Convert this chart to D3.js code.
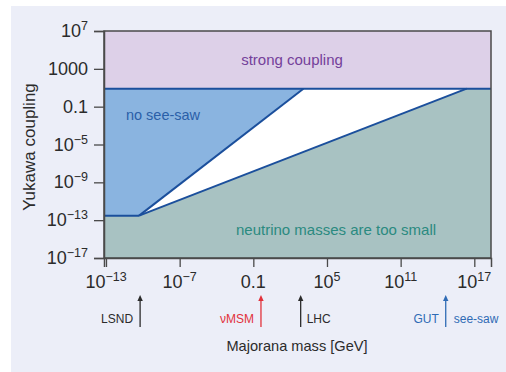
<!DOCTYPE html>
<html>
<head>
<meta charset="utf-8">
<script src="https://cdn.jsdelivr.net/npm/d3@7"></script>
<style>
  html, body { margin: 0; padding: 0; background: #ffffff; }
  svg { display: block; font-family: "Liberation Sans", Arial, sans-serif; }
</style>
</head>
<body>
<svg id="chart" width="506" height="372"></svg>
<script>
// Majorana mass (GeV) vs Yukawa coupling: allowed see-saw region
const xTicks = [1e-13, 1e-7, 0.1, 1e5, 1e11, 1e17];
const xTickBase = ["10", "10", "0.1", "10", "10", "10"];
const xTickExp = ["−13", "−7", "", "5", "11", "17"];
const yTicks = [1e-17, 1e-13, 1e-9, 1e-5, 0.1, 1000, 1e7];
const yTickBase = ["10", "10", "10", "10", "0.1", "1000", "10"];
const yTickExp = ["−17", "−13", "−9", "−5", "", "", "7"];

// Boundary curves
const strongCoupling = 8;            // perturbativity limit
const floorCoupling = 3e-13;         // Dirac-mass floor
const upperMass = [5e-11, 1.2e3];    // y = M / v
const upperCoupling = [3e-13, 8];
const lowerMass = [5e-11, 2.4e16];   // y = sqrt(m_nu M) / v
const lowerCoupling = [3e-13, 8];

// Mass scales marked under the axis
const markerNames = ["LSND", "νMSM", "LHC", "GUT"];
const markerMass = [6e-11, 0.42, 720, 4.7e14];
const markerColors = ["#2b2b2b", "#e2323c", "#2b2b2b", "#2f6bb5"];

const svg = d3.select("#chart");
const W = 506, H = 372;
const plot = { left: 104, right: 491, top: 31, bottom: 258 };

// panel background
svg.append("rect").attr("x", 11).attr("y", 6).attr("width", W - 11).attr("height", H - 6)
  .attr("fill", "#eceef8");

const x = d3.scaleLog().domain([Math.pow(10, -13.163), Math.pow(10, 18.36)])
  .range([plot.left, plot.right]);
const y = d3.scaleLog().domain([1e-17, 1e7]).range([plot.bottom, plot.top]);
const [xMin, xMax] = x.domain();
const [yMin, yMax] = y.domain();

const g = svg.append("g");
g.append("rect").attr("x", plot.left).attr("y", plot.top)
  .attr("width", plot.right - plot.left).attr("height", plot.bottom - plot.top)
  .attr("fill", "#ffffff");

const line = d3.line().x(d => x(d[0])).y(d => y(d[1]));
const area = pts => line(pts) + "Z";

// strong coupling band
g.append("path").attr("fill", "#ddd0e8")
  .attr("d", area([[xMin, strongCoupling], [xMax, strongCoupling], [xMax, yMax], [xMin, yMax]]));
// no see-saw region
g.append("path").attr("fill", "#8ab4e0")
  .attr("d", area([[xMin, floorCoupling], [upperMass[0], upperCoupling[0]],
    [upperMass[1], upperCoupling[1]], [xMin, strongCoupling]]));
// neutrino masses too small
g.append("path").attr("fill", "#a8c2c2")
  .attr("d", area([[xMin, yMin], [xMin, floorCoupling], [lowerMass[0], lowerCoupling[0]],
    [lowerMass[1], lowerCoupling[1]], [xMax, strongCoupling], [xMax, yMin]]));

const lineColor = "#1b4f9c";
const boundaries = [
  [[xMin, strongCoupling], [xMax, strongCoupling]],
  [[xMin, floorCoupling], [upperMass[0], upperCoupling[0]]],
  [[upperMass[0], upperCoupling[0]], [upperMass[1], upperCoupling[1]]],
  [[lowerMass[0], lowerCoupling[0]], [lowerMass[1], lowerCoupling[1]]]
];
g.selectAll(".bound").data(boundaries).join("path").attr("class", "bound")
  .attr("d", line).attr("fill", "none").attr("stroke", lineColor)
  .attr("stroke-width", 2).attr("stroke-linejoin", "round");

// frame
g.append("rect").attr("x", plot.left).attr("y", plot.top)
  .attr("width", plot.right - plot.left).attr("height", plot.bottom - plot.top)
  .attr("fill", "none").attr("stroke", "#4a4a4a").attr("stroke-width", 1.5);

// axes
const xAxis = d3.axisBottom(x).tickValues(xTicks).tickSize(9).tickFormat("");
const yAxis = d3.axisLeft(y).tickValues(yTicks).tickSize(10).tickFormat("");
const gx = svg.append("g").attr("transform", `translate(0,${plot.bottom})`).call(xAxis);
const gy = svg.append("g").attr("transform", `translate(${plot.left},0)`).call(yAxis);
[gx, gy].forEach(a => {
  a.select(".domain").attr("stroke", "#4a4a4a").attr("stroke-width", 1.5);
  a.selectAll(".tick line").attr("stroke", "#4a4a4a").attr("stroke-width", 1.3);
});

function tickLabel(sel, base, exp) {
  sel.append("tspan").text(base);
  if (exp) sel.append("tspan").attr("dy", -7).attr("font-size", 12.5).text(exp);
}
xTicks.forEach((v, i) => {
  const t = svg.append("text").attr("x", x(v)).attr("y", plot.bottom + 30)
    .attr("text-anchor", "middle").attr("font-size", 18).attr("fill", "#2b2b2b");
  tickLabel(t, xTickBase[i], xTickExp[i]);
});
yTicks.forEach((v, i) => {
  const t = svg.append("text").attr("x", plot.left - 16).attr("y", y(v) + 6)
    .attr("text-anchor", "end").attr("font-size", 18).attr("fill", "#2b2b2b");
  tickLabel(t, yTickBase[i], yTickExp[i]);
});

// region labels
svg.append("text").attr("x", 292).attr("y", 65).attr("text-anchor", "middle")
  .attr("font-size", 15).attr("fill", "#74409a").text("strong coupling");
svg.append("text").attr("x", 163).attr("y", 120).attr("text-anchor", "middle")
  .attr("font-size", 14.5).attr("fill", "#2a5fa8").text("no see-saw");
svg.append("text").attr("x", 336).attr("y", 235).attr("text-anchor", "middle")
  .attr("font-size", 15).attr("fill", "#2b8a80").text("neutrino masses are too small");

// axis titles
svg.append("text").attr("x", 297).attr("y", 351).attr("text-anchor", "middle")
  .attr("font-size", 14.6).attr("fill", "#2b2b2b").text("Majorana mass [GeV]");
svg.append("text").attr("transform", `translate(35,147) rotate(-90)`)
  .attr("text-anchor", "middle").attr("font-size", 17).attr("fill", "#2b2b2b")
  .text("Yukawa coupling");

// mass-scale markers
const arrowTop = 295, arrowBottom = 327;
markerMass.forEach((m, i) => {
  const cx = x(m), c = markerColors[i];
  svg.append("line").attr("x1", cx).attr("x2", cx).attr("y1", arrowTop + 4).attr("y2", arrowBottom)
    .attr("stroke", c).attr("stroke-width", 1.3);
  svg.append("path").attr("fill", c)
    .attr("d", `M${cx},${arrowTop}L${cx - 2.7},${arrowTop + 6}L${cx + 2.7},${arrowTop + 6}Z`);
  const leftSide = markerNames[i] !== "LHC";
  svg.append("text").attr("x", leftSide ? cx - 7 : cx + 6).attr("y", 323)
    .attr("text-anchor", leftSide ? "end" : "start").attr("font-size", 12).attr("fill", c)
    .text(markerNames[i]);
});
svg.append("text").attr("x", x(markerMass[3]) + 8).attr("y", 323)
  .attr("font-size", 12).attr("fill", markerColors[3]).text("see-saw");
</script>
</body>
</html>
